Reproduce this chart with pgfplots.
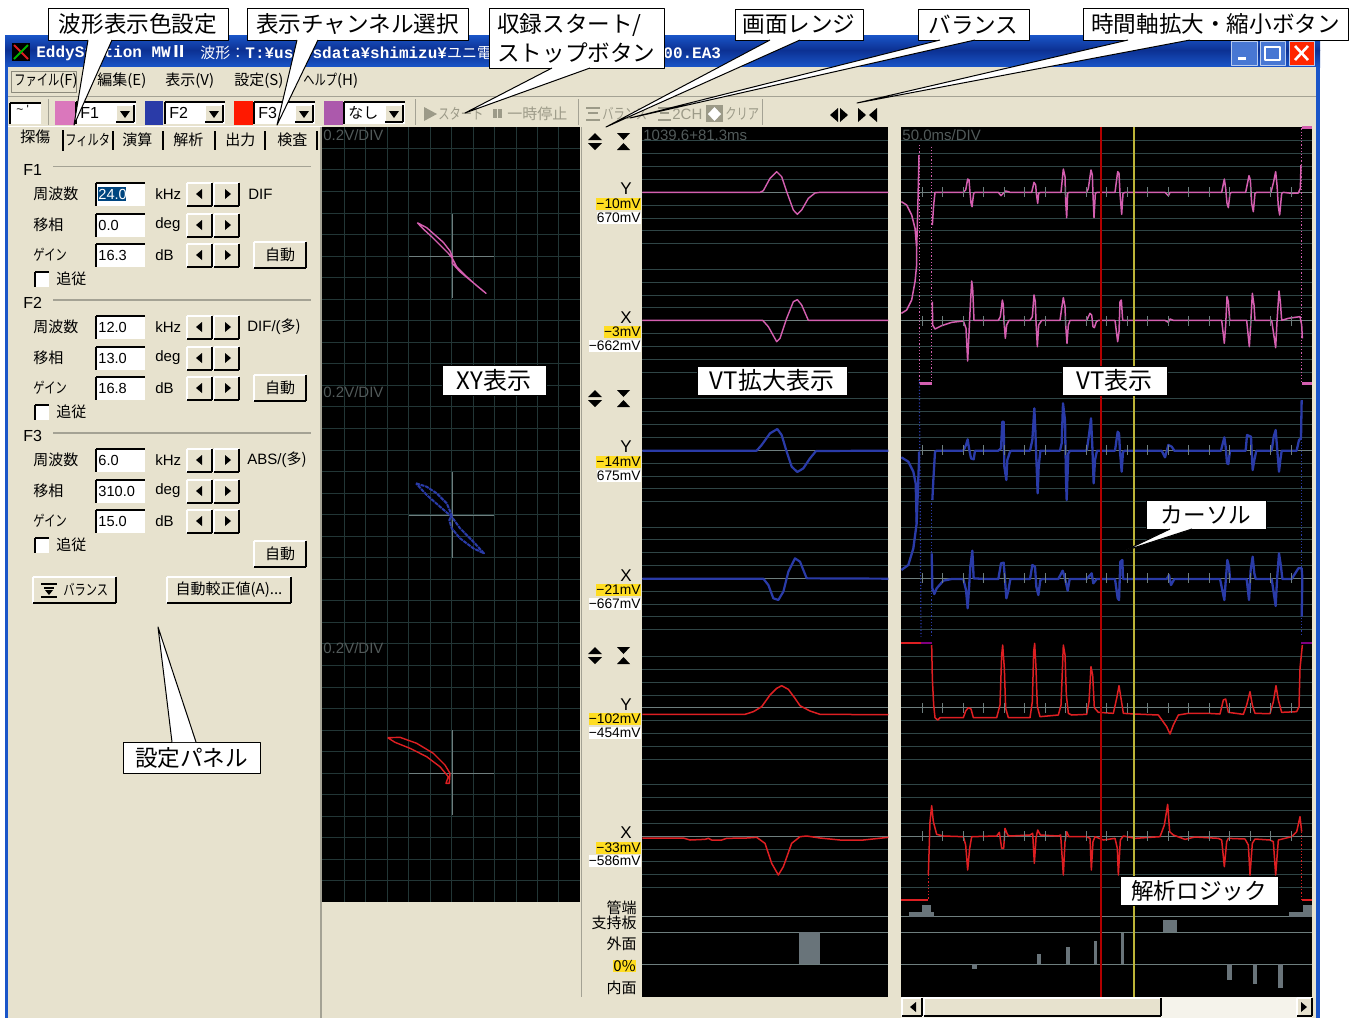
\documentclass[border=0pt]{standalone}
\usepackage{fontspec}
\usepackage{pgfplots}
\pgfplotsset{compat=1.18}
\setmainfont{Noto Sans CJK JP}
\newfontfamily\ui{Liberation Sans}
\newfontfamily\mono{Liberation Mono}
\newfontfamily\nr[FakeStretch=0.75]{Noto Sans CJK JP}

\definecolor{panel}{HTML}{E7E2CE}
\definecolor{frame}{HTML}{1A55C8}
\definecolor{navy}{HTML}{0C3193}
\definecolor{gridc}{HTML}{223636}
\definecolor{vtc}{HTML}{2F4546}
\definecolor{midc}{HTML}{6E7E7E}
\definecolor{barc}{HTML}{69747A}
\definecolor{pinkc}{HTML}{D45FB0}
\definecolor{bluec}{HTML}{2A3BA8}
\definecolor{redc}{HTML}{DE1F22}
\definecolor{dimtx}{HTML}{525A5A}
\definecolor{offtx}{HTML}{9C9A88}
\definecolor{shade}{HTML}{8C8A7C}
\definecolor{rule}{HTML}{A4A294}
\definecolor{ylw}{HTML}{FFDD22}

% trace data below is read in the 3x zoom scale, offset by panel origin
\pgfplotsset{z3/.style 2 args={x filter/.expression={x/3+#1},y filter/.expression={y/3+#2}}}

\newcommand{\rc}[5]{\addplot[fill=#5,draw=none] coordinates {(#1,#2)(#3,#2)(#3,#4)(#1,#4)} -- cycle;}
\newcommand{\seg}[6]{\addplot[#5,line width=#6pt] coordinates {(#1,#2)(#3,#4)};}
\newcommand{\tri}[7]{\addplot[fill=#7,draw=none] coordinates {(#1,#2)(#3,#4)(#5,#6)} -- cycle;}
\newcommand{\tx}[5][]{\node[anchor=#4,inner sep=0pt,font=\fontsize{7.5}{9}\selectfont,#1] at (#2,#3) {#5};}
\newcommand{\btn}[4]{\rc{#1}{#2}{#3}{#4}{panel}
  \seg{#1}{#2}{#3}{#2}{white}{0.8}\seg{#1}{#2}{#1}{#4}{white}{0.8}
  \seg{#1}{#4}{#3}{#4}{shade}{1}\seg{#3}{#2}{#3}{#4}{shade}{1}}
\newcommand{\inset}[4]{\rc{#1}{#2}{#3}{#4}{white}
  \seg{#1}{#2}{#3}{#2}{shade}{0.9}\seg{#1}{#2}{#1}{#4}{shade}{0.9}}
\newcommand{\callout}[5]{\addplot[fill=white,draw=black,line width=0.5pt] coordinates {(#1,#2)(#3,#2)(#3,#4)(#1,#4)} -- cycle;
  \node[inner sep=0pt,font=\fontsize{11.3}{14.5}\selectfont,align=left] at ({(#1+#3)/2},{(#2+#4)/2}) {#5};}
\newcommand{\pointer}[5]{\addplot[fill=white,draw=none] coordinates {(#1,#2)(#4,#5)(#3,#2)} -- cycle;
  \addplot[black,line width=0.5pt] coordinates {(#1,#2)(#4,#5)(#3,#2)};}

\newcommand{\rowX}[8]{\tx[xshift=0pt]{33}{#5}{west}{#6}
  \inset{96}{#1}{145}{#2}
  \tx[font=\ui\fontsize{7.3}{9}\selectfont]{98}{#5}{west}{#7}
  \tx[font=\ui\fontsize{7.5}{9}\selectfont]{155}{#5}{west}{#8}
  \btn{187}{#1}{212}{#2}\btn{214}{#1}{239}{#2}
  \tri{202}{#3}{202}{#4}{196}{#5}{black}\tri{225}{#3}{225}{#4}{231}{#5}{black}}
\newcommand{\row}[4]{\edef\tmp{\noexpand\rowX{\the\numexpr#1-11\relax}{\the\numexpr#1+12\relax}{\the\numexpr#1-5\relax}{\the\numexpr#1+5\relax}{#1}}\tmp{#2}{#3}{#4}}
\newcommand{\chk}[1]{\edef\tmp{\noexpand\chkX{\the\numexpr#1-7\relax}{\the\numexpr#1+8\relax}{#1}}\tmp}
\newcommand{\chkX}[3]{\inset{35}{#1}{49}{#2}\tx{56}{#3}{west}{追従}}
\newcommand{\updownX}[5]{\tri{588}{#2}{602}{#2}{595}{#1}{black}\tri{588}{#3}{602}{#3}{595}{#4}{black}
  \tri{617}{#1}{630}{#1}{623.5}{#2}{black}\tri{617}{#4}{630}{#4}{623.5}{#3}{black}}
\newcommand{\updown}[1]{\edef\tmp{\noexpand\updownX{\the\numexpr#1-8\relax}{\the\numexpr#1-1\relax}{\the\numexpr#1+2\relax}{\the\numexpr#1+9\relax}{#1}}\tmp}
\newcommand{\vtt}[1]{\addplot[only marks,mark=|,mark size=2.5pt,mark options={draw=midc,line width=0.45pt}] coordinates {(922.3,#1)(942.8,#1)(963.3,#1)(983.8,#1)(1004.3,#1)(1024.8,#1)(1045.3,#1)(1065.8,#1)(1086.3,#1)(1106.8,#1)(1127.3,#1)(1147.8,#1)(1168.3,#1)(1188.8,#1)(1209.3,#1)(1229.8,#1)(1250.3,#1)(1270.8,#1)(1291.3,#1)};}
\newcommand{\val}[4]{\node[anchor=east,inner sep=0pt,minimum height=6pt,fill=#1,font=\ui\fontsize{6.9}{8}\selectfont] at (641,#2) {#3};}
\newcommand{\combo}[4]{\inset{#1}{102}{#2}{124}\btn{\the\numexpr#2-20\relax}{105}{\the\numexpr#2-2\relax}{122}}

\begin{document}
\begin{tikzpicture}
\begin{axis}[
  scale only axis, width=680pt, height=509pt,
  xmin=0, xmax=1360, ymin=0, ymax=1018, y dir=reverse,
  hide axis, clip=false,
  line join=round,
]
% page and window
\rc{0}{0}{1360}{1018}{white}
\rc{5}{35}{1320}{1018}{frame}
\addplot[draw=none,top color=frame,bottom color=navy] coordinates {(5,35)(1320,35)(1320,50)(5,50)} -- cycle;
\addplot[draw=none,top color=navy,bottom color=frame] coordinates {(5,50)(1320,50)(1320,67)(5,67)} -- cycle;
\rc{8}{67}{1316}{1018}{panel}
\seg{8}{96}{1316}{96}{rule}{0.5}
\seg{8}{126.5}{322}{126.5}{white}{0.6}
% title bar
\rc{12}{43}{30}{61}{black}
\seg{14}{45}{28}{59}{redc}{0.9}\seg{14}{59}{28}{45}{green!70!black}{0.9}
\tx[font=\mono\bfseries\fontsize{8}{9}\selectfont,text=white]{36}{53}{west}{EddyStation MW{\rmfamily Ⅱ}}
\tx[font=\fontsize{7.5}{9}\selectfont,text=white]{200}{53}{west}{波形：{\mono\bfseries\fontsize{8}{9}\selectfont T:¥usersdata¥shimizu¥}ユニ電}
\tx[font=\mono\bfseries\fontsize{8}{9}\selectfont,text=white]{663}{53}{west}{00.EA3}
\addplot[fill=frame!80!white,draw=white!70!frame,line width=0.5pt] coordinates {(1231,41)(1257,41)(1257,65)(1231,65)} -- cycle;
\rc{1238}{57}{1246}{60}{white}
\addplot[fill=frame!80!white,draw=white!70!frame,line width=0.5pt] coordinates {(1260,41)(1285,41)(1285,65)(1260,65)} -- cycle;
\addplot[draw=white,line width=0.8pt] coordinates {(1265,47)(1280,47)(1280,60)(1265,60)} -- cycle;
\addplot[fill=red!70!orange,draw=white!70!frame,line width=0.5pt] coordinates {(1289,41)(1314,41)(1314,65)(1289,65)} -- cycle;
\seg{1295}{46}{1308}{60}{white}{1.3}\seg{1295}{60}{1308}{46}{white}{1.3}
% menu
\addplot[draw=shade,line width=0.4pt] coordinates {(11,71)(76,71)(76,92)(11,92)} -- cycle;
\tx{14}{81}{west}{{\nr ファイル}(F)}
\tx{97}{81}{west}{編集(E)}
\tx{165}{81}{west}{表示(V)}
\tx{234}{81}{west}{設定(S)}
\tx{303}{81}{west}{{\nr ヘルプ}(H)}
% toolbar
\inset{10}{103}{41}{124}
\tx[font=\ui\fontsize{6}{7}\selectfont]{16}{109}{west}{\textasciitilde\ '}
\seg{48}{99}{48}{125}{rule}{0.4}
\rc{55}{101}{75}{125}{pinkc!85!white}\rc{145}{101}{163}{125}{bluec}\rc{234}{101}{253}{125}{red!80!orange}\rc{324}{101}{343}{125}{violet!65!white}
\combo{76}{136}{}{}\combo{165}{225}{}{}\combo{254}{315}{}{}\combo{344}{405}{}{}
\tx[font=\ui\fontsize{8}{9}\selectfont]{80}{113}{west}{F1}
\tx[font=\ui\fontsize{8}{9}\selectfont]{169}{113}{west}{F2}
\tx[font=\ui\fontsize{8}{9}\selectfont]{258}{113}{west}{F3}
\tx{348}{113}{west}{なし}
\tri{120}{111}{130}{111}{125}{118}{black}\tri{209}{111}{219}{111}{214}{118}{black}
\tri{299}{111}{309}{111}{304}{118}{black}\tri{389}{111}{399}{111}{394}{118}{black}
\seg{415}{99}{415}{125}{rule}{0.4}\seg{578}{99}{578}{125}{rule}{0.4}\seg{762}{99}{762}{125}{rule}{0.4}
\tri{424}{107}{424}{121}{437}{114}{offtx}
\tx[text=offtx]{438}{114}{west}{\nr スタート}
\rc{493}{109}{497}{118}{offtx}\rc{498}{109}{502}{118}{offtx}
\tx[text=offtx]{507}{114}{west}{一時停止}
\seg{586}{108}{600}{108}{offtx}{0.7}\seg{588}{113}{598}{113}{offtx}{0.7}\seg{586}{120}{600}{120}{offtx}{0.7}
\tx[text=offtx]{602}{114}{west}{\nr バランス}
\seg{658}{108}{671}{108}{offtx}{0.7}\seg{660}{113}{669}{113}{offtx}{0.7}\seg{658}{120}{671}{120}{offtx}{0.7}
\tx[text=offtx,font=\ui\fontsize{7.5}{9}\selectfont]{672}{114}{west}{2CH}
\rc{706}{105}{723}{122}{offtx}
\tri{708}{114}{721}{114}{714.5}{107}{white}\tri{708}{114}{721}{114}{714.5}{121}{white}
\tx[text=offtx]{725}{114}{west}{\nr クリア}
\tri{838}{108}{838}{122}{830}{115}{black}\tri{840}{108}{840}{122}{848}{115}{black}
\tri{858}{108}{858}{122}{866}{115}{black}\tri{877}{108}{877}{122}{869}{115}{black}
% tabs
\tx{20}{137}{west}{探傷}
\tx{65}{140}{west}{\nr フィルタ}
\tx{122}{140}{west}{演算}
\tx{173}{140}{west}{解析}
\tx{225}{140}{west}{出力}
\tx{277}{140}{west}{検査}
\seg{63}{130}{63}{151}{shade}{0.7}\seg{113}{131}{113}{150}{shade}{0.7}\seg{163}{131}{163}{150}{shade}{0.7}
\seg{215}{131}{215}{150}{shade}{0.7}\seg{265}{131}{265}{150}{shade}{0.7}\seg{317}{131}{317}{150}{shade}{0.7}
% settings panel
\tx[font=\ui\fontsize{8}{9}\selectfont]{23}{170}{west}{F1}
\seg{53}{166.5}{311}{166.5}{rule}{0.6}
\row{194}{周波数}{}{kHz}
\rc{98}{187}{126}{201}{blue!45!cyan!50!black}
\tx[font=\ui\fontsize{7.3}{9}\selectfont,text=white]{98}{194}{west}{24.0}
\tx[font=\ui\fontsize{7.5}{9}\selectfont]{248}{194}{west}{DIF}
\row{225}{移相}{0.0}{deg}
\row{255}{{\nr ゲイン}}{16.3}{dB}
\btn{254}{242}{306}{268}\tx{280}{255}{center}{自動}
\chk{279}
\tx[font=\ui\fontsize{8}{9}\selectfont]{23}{303}{west}{F2}
\seg{53}{300}{311}{300}{rule}{0.6}
\row{327}{周波数}{12.0}{kHz}
\tx[font=\ui\fontsize{7.5}{9}\selectfont]{247}{327}{west}{DIF/(\rmfamily 多)}
\row{358}{移相}{13.0}{deg}
\row{388}{{\nr ゲイン}}{16.8}{dB}
\btn{254}{375}{306}{401}\tx{280}{388}{center}{自動}
\chk{412}
\tx[font=\ui\fontsize{8}{9}\selectfont]{23}{436}{west}{F3}
\seg{53}{433}{311}{433}{rule}{0.6}
\row{460}{周波数}{6.0}{kHz}
\tx[font=\ui\fontsize{7.5}{9}\selectfont]{247}{460}{west}{ABS/(\rmfamily 多)}
\row{491}{移相}{310.0}{deg}
\row{521}{{\nr ゲイン}}{15.0}{dB}
\chk{545}
\btn{254}{541}{306}{567}\tx{280}{554}{center}{自動}
\btn{33}{577}{116}{603}
\seg{41}{584}{57}{584}{black}{0.6}\seg{44}{588}{54}{588}{black}{0.6}\seg{41}{597}{57}{597}{black}{0.8}\tri{45}{590}{53}{590}{49}{595}{black}
\tx{63}{590}{west}{\nr バランス}
\btn{167}{577}{291}{603}
\tx{229}{590}{center}{自動較正値(A)...}
% screens
\seg{321}{127}{321}{1018}{rule}{0.7}
\rc{322}{127}{580}{902}{black}
\seg{581.5}{127}{581.5}{997}{rule}{0.5}
\rc{642}{127}{888}{997}{black}
\rc{901}{127}{1312}{997}{black}
% XY grid
\pgfplotsinvokeforeach{148.3,169.9,191.4,213,234.5,256.1,277.6,299.1,320.7,342.2,363.8,385.3,406.9,428.4,450,471.5,493.1,514.6,536.1,557.7,579.2,600.8,622.3,643.9,665.4,687,708.5,730.1,751.6,773.1,794.7,816.2,837.8,859.3,880.9}{\seg{322}{#1}{580}{#1}{gridc}{0.45}}
\pgfplotsinvokeforeach{344,365.5,387,408.4,430,451.7,473,494.3,516,537,558.3}{\seg{#1}{127}{#1}{902}{gridc}{0.45}}
\seg{409}{256.5}{494}{256.5}{midc}{0.5}\seg{452}{214}{452}{298}{midc}{0.5}
\seg{409}{515.5}{494}{515.5}{midc}{0.5}\seg{452}{472}{452}{558}{midc}{0.5}
\seg{409}{773}{494}{773}{midc}{0.5}\seg{452}{730}{452}{815}{midc}{0.5}
\tx[text=dimtx]{323}{135}{west}{\ui 0.2V/DIV}
\tx[text=dimtx]{323}{392}{west}{\ui 0.2V/DIV}
\tx[text=dimtx]{323}{648}{west}{\ui 0.2V/DIV}
% XY traces
\addplot[pinkc,line width=0.7pt] coordinates {(417.3,222.7)(426.7,227.7)(435,235)(443.3,242.3)(450,251)(452.3,256.7)(452.3,263.3)(460,271.7)(470,280)(480,288.3)(486,293.3)(476.7,285.7)(466.7,276.7)(456.7,266.7)(452.3,258.3)(448.3,253.3)(440,245)(431.7,236.7)(423.3,229)(417.3,222.7)};
\addplot[bluec,line width=1pt,dash pattern=on 2pt off 0.4pt] coordinates {(416,483.3)(426.7,486.7)(436.7,493.3)(446.7,503.3)(451.7,515)(449.3,520)(451.7,528.3)(460,538.3)(473.3,548.3)(484,553.3)(473.3,541.7)(460,528.3)(451.7,516.7)(440,506.7)(426.7,495)(416,483.3)};
\addplot[redc,line width=0.7pt] coordinates {(387.7,737.7)(400,737.3)(416.7,743.3)(433.3,753.3)(445,765)(450,773.3)(449.3,783.3)(446,783.3)(448.3,776.7)(440,766.7)(426.7,756.7)(410,748.3)(395,742.3)(387.7,737.7)};
% VT gridlines, both panes
\pgfplotsinvokeforeach{140.9,153.8,166.6,179.5,205.2,218,230.9,243.7,269.4,282.2,295.1,307.9,333.7,346.5,359.4,372.2,398.9,411.8,424.6,437.5,463.2,476,488.9,501.7,527,539.9,552.7,565.6,591.2,604.1,616.9,629.8,656.5,669.4,682.2,695,720.8,733.6,746.5,759.3,784.8,797.7,810.5,823.4,849,861.9,874.7,887.6}{\seg{642}{#1}{888}{#1}{vtc}{0.5}\seg{901}{#1}{1312}{#1}{vtc}{0.5}}
\pgfplotsinvokeforeach{192.3,320.8,450.3,578.4,707.9,836.2,916.7,932.3,964}{\seg{642}{#1}{888}{#1}{midc}{0.5}\seg{901}{#1}{1312}{#1}{midc}{0.5}}
\vtt{192.3}\vtt{320.8}\vtt{450.3}\vtt{578.4}\vtt{707.9}\vtt{836.2}
% gate bars
\rc{799}{932.3}{820.3}{964}{barc}
\addplot[barc,z3={895}{635},fill=barc,draw=none] coordinates {(42,830)(118,830)(118,846)(42,846)} -- cycle;
\addplot[fill=barc,draw=none,z3={895}{635}] coordinates {(80,810)(108,810)(108,830)(80,830)} -- cycle;
\addplot[fill=barc,draw=none,z3={895}{635}] coordinates {(1182,830)(1250,830)(1250,846)(1182,846)} -- cycle;
\addplot[fill=barc,draw=none,z3={895}{635}] coordinates {(1224,810)(1250,810)(1250,830)(1224,830)} -- cycle;
\addplot[fill=barc,draw=none,z3={895}{635}] coordinates {(804,856)(846,856)(846,892)(804,892)} -- cycle;
\addplot[fill=barc,draw=none,z3={895}{635}] coordinates {(427,956)(438,956)(438,988)(427,988)} -- cycle;
\addplot[fill=barc,draw=none,z3={895}{635}] coordinates {(512,937)(526,937)(526,988)(512,988)} -- cycle;
\addplot[fill=barc,draw=none,z3={895}{635}] coordinates {(597,918)(607,918)(607,988)(597,988)} -- cycle;
\addplot[fill=barc,draw=none,z3={895}{635}] coordinates {(677,893)(688,893)(688,988)(677,988)} -- cycle;
\addplot[fill=barc,draw=none,z3={895}{635}] coordinates {(231,988)(246,988)(246,1001)(231,1001)} -- cycle;
\addplot[fill=barc,draw=none,z3={895}{635}] coordinates {(997,988)(1011,988)(1011,1035)(997,1035)} -- cycle;
\addplot[fill=barc,draw=none,z3={895}{635}] coordinates {(1073,988)(1085,988)(1085,1047)(1073,1047)} -- cycle;
\addplot[fill=barc,draw=none,z3={895}{635}] coordinates {(1150,988)(1165,988)(1165,1058)(1150,1058)} -- cycle;
% VT zoom traces
\addplot[pinkc,line width=0.7pt,z3={580}{125}] coordinates {(187,202)(540,202)(550,197)(570,160)(590,140)(605,155)(620,200)(640,255)(652,268)(665,255)(685,220)(705,204)(720,202)(925,202)};
\addplot[pinkc,line width=0.7pt,z3={580}{125}] coordinates {(187,586)(548,586)(565,605)(590,650)(600,640)(620,580)(640,530)(652,524)(665,540)(685,586)(925,586)};
\addplot[bluec,line width=1.1pt,z3={580}{385}] coordinates {(187,197)(530,197)(545,180)(570,145)(592,132)(605,150)(620,200)(635,245)(652,261)(670,250)(690,220)(708,198)(925,197)};
\addplot[bluec,line width=1.1pt,z3={580}{385}] coordinates {(187,581)(550,581)(565,600)(580,640)(595,645)(610,620)(625,560)(645,520)(660,530)(680,580)(925,581)};
\addplot[redc,line width=0.75pt,z3={580}{640}] coordinates {(187,223)(495,223)(520,215)(545,200)(570,165)(590,145)(605,137)(625,148)(645,175)(660,197)(690,213)(720,223)(925,224)};
\addplot[redc,line width=0.75pt,z3={580}{640}] coordinates {(187,594)(310,594)(330,600)(375,598)(385,595)(395,600)(425,600)(440,595)(500,594)(530,592)(555,610)(575,670)(595,705)(610,680)(635,610)(660,590)(680,588)(720,594)(780,600)(850,600)(925,592)};
% VT pink
\addplot[pinkc,line width=0.6pt,densely dotted,z3={895}{125}] coordinates {(73,60)(73,775)};
\addplot[pinkc,line width=0.6pt,densely dotted,z3={895}{125}] coordinates {(110,65)(110,775)};
\addplot[pinkc,line width=0.6pt,densely dotted,z3={895}{125}] coordinates {(1220,10)(1220,775)};
\addplot[pinkc,line width=1.2pt,z3={895}{125}] coordinates {(75,775)(110,775)};
\addplot[pinkc,line width=1.2pt,z3={895}{125}] coordinates {(1222,7)(1250,7)};
\addplot[pinkc,line width=1.2pt,z3={895}{125}] coordinates {(1222,775)(1250,775)};
\addplot[pinkc,line width=0.75pt,z3={895}{125}] coordinates {(19,230)(35,240)(50,270)(60,310)(65,370)(68,265)(72,90)};
\addplot[pinkc,line width=0.75pt,z3={895}{125}] coordinates {(19,565)(35,555)(50,525)(60,470)(65,420)(65,370)};
\addplot[pinkc,line width=0.75pt,z3={895}{125}] coordinates {(112,300)(116,240)(120,202)(205,202)(212,195)(218,162)(222,165)(225,202)(228,235)(231,245)(236,205)(240,202)(310,202)(318,212)(325,205)(332,198)(340,200)(345,202)(410,202)(417,172)(422,180)(424,205)(428,235)(431,205)(436,202)(498,202)(505,132)(510,155)(512,230)(515,278)(518,205)(522,202)(575,202)(580,190)(588,135)(592,150)(594,210)(597,278)(601,205)(606,202)(660,202)(668,140)(672,145)(675,205)(680,268)(684,205)(690,202)(810,202)(820,212)(825,202)(980,202)(988,162)(992,190)(996,235)(1000,248)(1005,205)(1010,202)(1052,202)(1062,152)(1066,165)(1070,235)(1075,260)(1080,205)(1085,202)(1128,202)(1136,170)(1142,140)(1146,180)(1150,245)(1154,270)(1160,205)(1165,202)(1190,205)(1210,204)(1216,190)(1218,120)};
\addplot[pinkc,line width=0.75pt,z3={895}{125}] coordinates {(112,530)(113,600)(120,612)(140,602)(170,592)(205,588)(213,610)(218,708)(222,625)(225,560)(230,468)(233,490)(237,586)(310,586)(316,575)(322,525)(325,540)(327,590)(331,640)(335,600)(342,586)(405,586)(412,575)(417,510)(421,530)(423,590)(427,665)(431,600)(440,586)(495,586)(500,550)(505,518)(510,545)(512,600)(516,655)(520,600)(525,586)(575,586)(585,565)(590,570)(594,605)(598,608)(604,590)(610,586)(660,586)(668,650)(672,620)(675,530)(679,525)(683,586)(690,586)(810,586)(820,592)(825,582)(835,586)(980,586)(988,655)(992,600)(996,515)(1000,530)(1004,586)(1010,586)(1055,586)(1063,665)(1067,600)(1072,505)(1077,540)(1080,586)(1085,586)(1130,586)(1142,668)(1146,590)(1152,498)(1156,530)(1160,586)(1180,580)(1200,577)(1215,575)(1220,600)(1222,640)};
% VT blue
\addplot[bluec,line width=0.6pt,densely dotted,z3={895}{380}] coordinates {(73,0)(78,770)};
\addplot[bluec,line width=0.6pt,densely dotted,z3={895}{380}] coordinates {(110,370)(110,770)};
\addplot[bluec,line width=0.6pt,densely dotted,z3={895}{380}] coordinates {(1220,60)(1220,770)};
\addplot[bluec,line width=1.15pt,z3={895}{380}] coordinates {(19,232)(40,245)(55,275)(62,310)(65,430)};
\addplot[bluec,line width=1.15pt,z3={895}{380}] coordinates {(19,570)(40,555)(55,505)(65,430)(72,240)(72,215)};
\addplot[bluec,line width=1.15pt,z3={895}{380}] coordinates {(112,360)(115,300)(120,215)(125,212)(205,212)(213,195)(218,178)(222,205)(228,235)(236,238)(240,212)(310,212)(318,205)(322,125)(326,125)(328,260)(334,300)(337,240)(345,215)(350,212)(405,212)(412,180)(418,85)(421,150)(423,210)(428,340)(431,260)(436,212)(495,212)(500,190)(504,70)(510,120)(513,300)(515,360)(520,220)(525,212)(575,212)(582,165)(588,115)(592,200)(596,310)(600,240)(606,212)(660,212)(668,155)(672,160)(675,215)(680,275)(684,215)(690,212)(800,212)(810,232)(820,195)(830,200)(838,212)(978,212)(988,172)(992,200)(996,250)(1000,252)(1005,212)(1052,212)(1056,165)(1068,170)(1070,215)(1073,270)(1078,240)(1084,212)(1130,212)(1136,170)(1142,150)(1146,200)(1152,275)(1156,240)(1160,212)(1205,212)(1212,180)(1218,175)(1220,60)};
\addplot[bluec,line width=1.15pt,z3={895}{380}] coordinates {(110,520)(112,625)(118,642)(125,625)(145,602)(170,597)(205,597)(213,630)(218,685)(222,625)(226,560)(232,512)(236,595)(270,597)(310,597)(318,550)(326,548)(330,600)(334,655)(340,632)(346,597)(405,597)(412,555)(420,560)(424,620)(430,645)(436,600)(442,597)(490,597)(503,572)(510,595)(518,632)(524,597)(575,597)(590,580)(595,610)(605,597)(660,597)(668,655)(672,660)(676,545)(682,540)(684,597)(815,597)(822,585)(828,615)(838,597)(975,597)(988,660)(992,605)(997,540)(1002,560)(1005,597)(1055,597)(1062,660)(1067,570)(1073,530)(1078,580)(1082,597)(1130,597)(1142,678)(1146,600)(1152,520)(1158,560)(1162,597)(1190,597)(1210,565)(1220,565)(1222,595)(1220,710)};
% VT red
\addplot[redc,line width=1pt,z3={895}{635}] coordinates {(19,25)(77,25)};
\addplot[violet,line width=1pt,z3={895}{635}] coordinates {(77,25)(110,25)};
\addplot[violet,line width=1pt,z3={895}{635}] coordinates {(1218,25)(1250,25)};
\addplot[redc,line width=1pt,z3={895}{635}] coordinates {(19,795)(100,795)};
\addplot[redc,line width=1pt,z3={895}{635}] coordinates {(1222,795)(1250,795)};
\addplot[redc,line width=0.6pt,densely dotted,z3={895}{635}] coordinates {(100,720)(100,795)};
\addplot[redc,line width=0.6pt,densely dotted,z3={895}{635}] coordinates {(1220,590)(1220,795)};
\addplot[redc,line width=0.75pt,z3={895}{635}] coordinates {(110,30)(112,130)(116,210)(120,248)(128,255)(135,248)(205,248)(212,228)(220,218)(228,222)(235,248)(305,248)(315,210)(320,60)(323,30)(328,100)(332,220)(340,248)(405,248)(412,200)(416,50)(419,25)(423,100)(427,215)(435,245)(490,240)(498,210)(505,30)(510,60)(514,180)(520,235)(530,240)(575,238)(582,200)(588,95)(593,120)(598,218)(610,232)(655,235)(665,190)(672,152)(678,190)(685,235)(720,237)(790,240)(815,275)(825,297)(835,270)(850,240)(880,235)(940,235)(975,237)(985,195)(992,192)(1000,232)(1045,238)(1055,210)(1065,170)(1072,210)(1080,235)(1125,236)(1135,200)(1143,152)(1150,195)(1160,232)(1205,230)(1212,215)(1215,100)(1222,30)};
\addplot[redc,line width=0.75pt,z3={895}{635}] coordinates {(100,720)(105,560)(110,512)(115,560)(125,598)(145,603)(205,605)(212,630)(218,705)(224,640)(230,605)(305,603)(313,592)(320,640)(326,640)(330,580)(338,600)(345,603)(405,600)(413,595)(418,685)(423,610)(428,585)(436,600)(490,603)(497,600)(505,720)(510,620)(515,590)(522,605)(575,605)(585,610)(589,705)(594,620)(600,605)(625,615)(660,610)(667,640)(670,720)(676,615)(685,603)(720,610)(795,605)(808,570)(818,508)(824,590)(835,600)(870,613)(900,606)(970,610)(980,615)(988,695)(995,620)(1000,610)(1050,612)(1060,630)(1065,720)(1072,625)(1080,612)(1125,615)(1135,620)(1142,720)(1150,615)(1190,605)(1205,590)(1215,545)(1220,590)};
% cursors
\seg{1101}{127}{1101}{997}{red!70!black}{0.6}
\seg{1134}{127}{1134}{997}{yellow!70!black}{0.6}
% strip labels
\tx[text=dimtx]{643}{135}{west}{\ui 1039.6+81.3ms}
\tx[text=dimtx]{902}{135}{west}{\ui 50.0ms/DIV}
\updown{141}\updown{398}\updown{655}
\tx[font=\ui\fontsize{8.5}{9}\selectfont]{626}{189}{center}{Y}\tx[font=\ui\fontsize{8.5}{9}\selectfont]{626}{318}{center}{X}
\tx[font=\ui\fontsize{8.5}{9}\selectfont]{626}{447}{center}{Y}\tx[font=\ui\fontsize{8.5}{9}\selectfont]{626}{576}{center}{X}
\tx[font=\ui\fontsize{8.5}{9}\selectfont]{626}{705}{center}{Y}\tx[font=\ui\fontsize{8.5}{9}\selectfont]{626}{833}{center}{X}
\val{ylw}{204}{\textminus 10mV}{}\val{white}{218}{670mV}{}
\val{ylw}{332}{\textminus 3mV}{}\val{white}{346}{\textminus 662mV}{}
\val{ylw}{462}{\textminus 14mV}{}\val{white}{476}{675mV}{}
\val{ylw}{590}{\textminus 21mV}{}\val{white}{604}{\textminus 667mV}{}
\val{ylw}{719}{\textminus 102mV}{}\val{white}{733}{\textminus 454mV}{}
\val{ylw}{848}{\textminus 33mV}{}\val{white}{861}{\textminus 586mV}{}
\tx{637}{908}{east}{管端}
\tx{637}{923}{east}{支持板}
\tx{637}{944}{east}{外面}
\tx[fill=ylw]{636}{966}{east}{0\%}
\tx{637}{988}{east}{内面}
% scrollbar
\rc{901}{997}{1312}{1018}{panel!40!white}
\btn{902}{998}{922}{1016}\tri{916}{1002}{916}{1012}{910}{1007}{black}
\btn{924}{998}{1161}{1016}
\btn{1297}{998}{1312}{1016}\tri{1301}{1002}{1301}{1012}{1307}{1007}{black}
% callouts
\callout{48}{8}{228}{40}{波形表示色設定}
\callout{247}{8}{468}{40}{表示チャンネル選択}
\callout{489}{8}{664}{68}{収録スタート/\\ストップボタン}
\callout{735}{9}{863}{40}{画面レンジ}
\callout{918}{9}{1029}{40}{バランス}
\callout{1083}{8}{1348}{40}{時間軸拡大・縮小ボタン}
\callout{123}{742}{260}{773}{設定パネル}
\callout{442}{365}{546}{395}{\fontsize{12}{14}\selectfont XY表示}
\callout{697}{366}{847}{395}{\fontsize{12}{14}\selectfont VT拡大表示}
\callout{1062}{366}{1167}{395}{\fontsize{12}{14}\selectfont VT表示}
\callout{1146}{500}{1266}{529}{カーソル}
\callout{1120}{876}{1278}{905}{解析ロジック}
\pointer{88}{40}{112}{74}{125}
\pointer{297}{40}{318}{277}{125}
\pointer{552}{68}{590}{465}{113}
\pointer{770}{40}{800}{606}{127}
\pointer{940}{40}{975}{630}{118}
\pointer{1128}{40}{1190}{857}{103}
\pointer{172}{742}{196}{158}{627}
\pointer{1170}{529}{1192}{1124}{551}
\end{axis}
\end{tikzpicture}
\end{document}
